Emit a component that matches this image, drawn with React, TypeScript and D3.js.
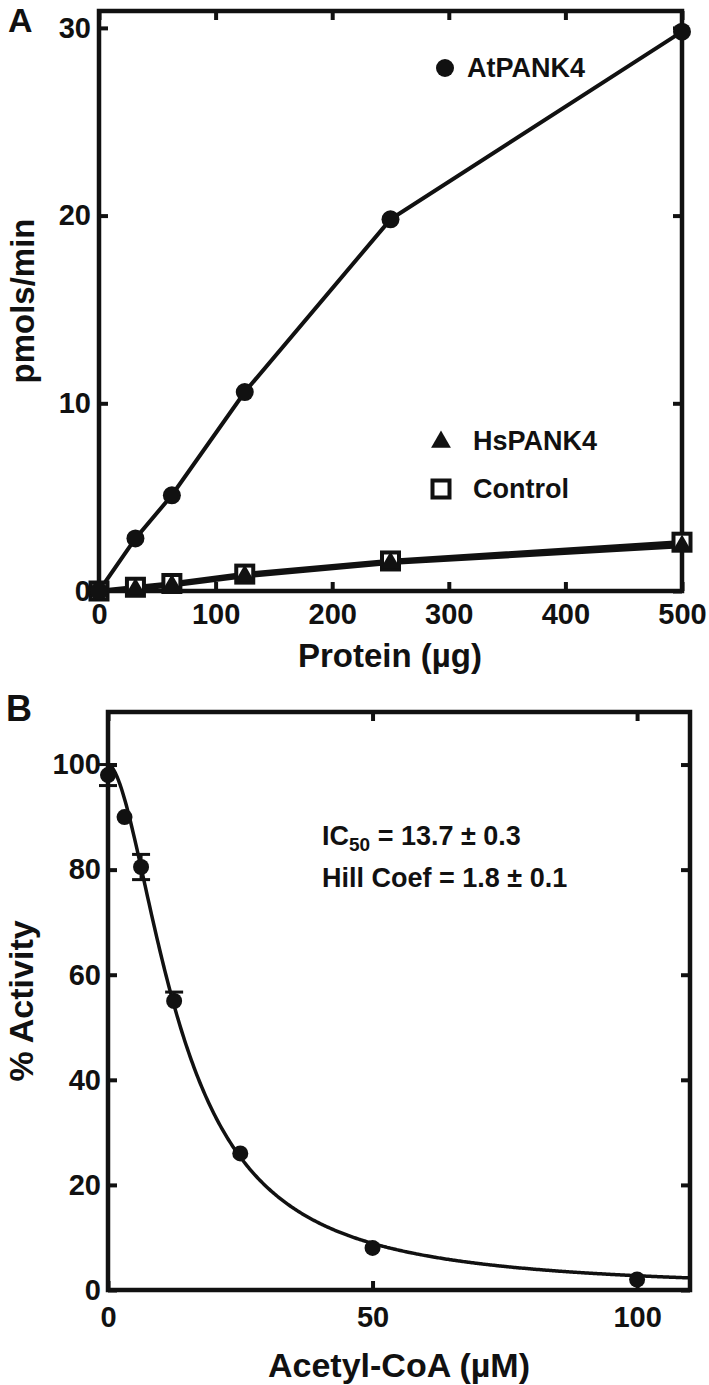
import React, { useEffect, useRef } from "react";
import * as d3 from "d3";

const W = 709;
const H = 1385;
const FONT = "'Liberation Sans', Arial, Helvetica, sans-serif";
const INK = "#111";

// panel A : activity vs protein
const proteinUg = [0, 31.25, 62.5, 125, 250, 500];
const atPank4 = [0, 2.8, 5.1, 10.6, 19.8, 29.8];
const hsPank4 = [0, 0.1, 0.3, 0.8, 1.5, 2.4];
const controlRate = [0, 0.2, 0.4, 0.9, 1.6, 2.6];
const proteinTicks = [0, 100, 200, 300, 400, 500];
const rateTicks = [0, 10, 20, 30];

// panel B : inhibition by acetyl-CoA
const acetylCoA = [0, 3.125, 6.25, 12.5, 25, 50, 100];
const activity = [98, 90, 80.5, 55, 26, 8, 2];
const errUp = [2, 0, 2.4, 1.7, 0, 0, 0];
const errDown = [2, 0, 2.4, 0, 0, 0, 0];
const coaTicks = [0, 50, 100];
const activityTicks = [0, 20, 40, 60, 80, 100];
const IC50 = 13.7;
const HILL = 1.8;

type Sel = d3.Selection<SVGGElement, unknown, null, undefined>;

function drawFrame(
  g: Sel,
  x: d3.ScaleLinear<number, number>,
  y: d3.ScaleLinear<number, number>,
  xTicks: number[],
  yTicks: number[],
  padX: number,
  padY: number
) {
  const [x0, x1] = x.range();
  const [y0, y1] = y.range();
  const tick = 9;

  const bottom = g.append("g").attr("transform", `translate(0,${y0})`)
    .call(d3.axisBottom(x).tickValues(xTicks).tickSizeInner(-tick).tickSizeOuter(0).tickPadding(padX).tickFormat(d3.format("d")));
  const top = g.append("g").attr("transform", `translate(0,${y1})`)
    .call(d3.axisTop(x).tickValues(xTicks).tickSizeInner(-tick).tickSizeOuter(0).tickFormat(() => ""));
  const left = g.append("g").attr("transform", `translate(${x0},0)`)
    .call(d3.axisLeft(y).tickValues(yTicks).tickSizeInner(-tick).tickSizeOuter(0).tickPadding(padY).tickFormat(d3.format("d")));
  const right = g.append("g").attr("transform", `translate(${x1},0)`)
    .call(d3.axisRight(y).tickValues(yTicks).tickSizeInner(-tick).tickSizeOuter(0).tickFormat(() => ""));

  [bottom, top, left, right].forEach((a) => {
    a.select(".domain").remove();
    a.selectAll(".tick line").attr("stroke", INK).attr("stroke-width", 4);
    a.selectAll(".tick text")
      .attr("fill", INK)
      .attr("font-family", FONT)
      .attr("font-weight", "bold")
      .attr("font-size", 29);
  });

  g.append("rect")
    .attr("x", x0).attr("y", y1)
    .attr("width", x1 - x0).attr("height", y0 - y1)
    .attr("fill", "none").attr("stroke", INK).attr("stroke-width", 4.5);
}

export default function App() {
  const ref = useRef<SVGSVGElement>(null);

  useEffect(() => {
    const svg = d3.select(ref.current as SVGSVGElement);
    svg.selectAll("*").remove();

    const label = (t: string, x: number, y: number, size: number, anchor = "start") =>
      svg.append("text")
        .attr("x", x).attr("y", y)
        .attr("text-anchor", anchor)
        .attr("font-family", FONT).attr("font-weight", "bold")
        .attr("font-size", size).attr("fill", INK)
        .text(t);

    // ---------- panel A ----------
    const xA = d3.scaleLinear().domain([0, 500]).range([99, 682]);
    const yA = d3.scaleLinear().domain([0, 30.9]).range([591, 11]);
    const gA = svg.append("g");

    const lineA = d3.line<number>().x((d, i) => xA(proteinUg[i])).y((d) => yA(d));
    [controlRate, hsPank4].forEach((vals) => {
      gA.append("path").datum(vals).attr("d", lineA)
        .attr("fill", "none").attr("stroke", INK).attr("stroke-width", 4.5);
    });
    gA.append("path").datum(atPank4).attr("d", lineA)
      .attr("fill", "none").attr("stroke", INK).attr("stroke-width", 4);

    drawFrame(gA, xA, yA, proteinTicks, rateTicks, 12, 8);

    const sq = 17;
    gA.selectAll("rect.ctrl").data(controlRate).enter().append("rect")
      .attr("x", (d, i) => xA(proteinUg[i]) - sq / 2)
      .attr("y", (d) => yA(d) - sq / 2)
      .attr("width", sq).attr("height", sq)
      .attr("fill", "#fff").attr("stroke", INK).attr("stroke-width", 4);

    const tri = d3.symbol().type(d3.symbolTriangle).size(170);
    gA.selectAll("path.hs").data(hsPank4).enter().append("path")
      .attr("d", tri)
      .attr("transform", (d, i) => `translate(${xA(proteinUg[i])},${yA(d)})`)
      .attr("fill", INK);

    gA.selectAll("circle.at").data(atPank4).enter().append("circle")
      .attr("cx", (d, i) => xA(proteinUg[i]))
      .attr("cy", (d) => yA(d))
      .attr("r", 9).attr("fill", INK);

    // legend A
    gA.append("circle").attr("cx", 445).attr("cy", 68).attr("r", 9).attr("fill", INK);
    label("AtPANK4", 467, 77, 27);
    gA.append("path").attr("d", tri).attr("transform", "translate(441,442)").attr("fill", INK);
    label("HsPANK4", 473, 450, 27);
    gA.append("rect").attr("x", 441 - sq / 2).attr("y", 489 - sq / 2)
      .attr("width", sq).attr("height", sq)
      .attr("fill", "#fff").attr("stroke", INK).attr("stroke-width", 4);
    label("Control", 473, 498, 27);

    label("A", 8, 32, 34);
    label("Protein (\u00b5g)", 390, 667, 33, "middle");
    label("pmols/min", 0, 0, 33, "middle").attr("transform", "translate(34,301) rotate(-90)");

    // ---------- panel B ----------
    const xB = d3.scaleLinear().domain([0, 110]).range([108, 690]);
    const yB = d3.scaleLinear().domain([0, 110]).range([1290, 712]);
    const gB = svg.append("g");

    const fit = d3.range(0, 110.001, 0.25).map((c) => [c, 100 / (1 + Math.pow(c / IC50, HILL))]);
    gB.append("path").datum(fit)
      .attr("d", d3.line<number[]>().x((d) => xB(d[0])).y((d) => yB(d[1])).curve(d3.curveBasis))
      .attr("fill", "none").attr("stroke", INK).attr("stroke-width", 3.5);

    drawFrame(gB, xB, yB, coaTicks, activityTicks, 16, 7);

    const cap = 9;
    acetylCoA.forEach((c, i) => {
      const cx = xB(c);
      const hi = yB(activity[i] + errUp[i]);
      const lo = yB(activity[i] - errDown[i]);
      if (errUp[i] === 0 && errDown[i] === 0) return;
      gB.append("line").attr("x1", cx).attr("x2", cx).attr("y1", hi).attr("y2", lo)
        .attr("stroke", INK).attr("stroke-width", 3);
      const caps: number[] = [];
      if (errUp[i] > 0) caps.push(hi);
      if (errDown[i] > 0) caps.push(lo);
      caps.forEach((yy) =>
        gB.append("line").attr("x1", cx - cap).attr("x2", cx + cap).attr("y1", yy).attr("y2", yy)
          .attr("stroke", INK).attr("stroke-width", 3));
    });
    gB.selectAll("circle.pt").data(activity).enter().append("circle")
      .attr("cx", (d, i) => xB(acetylCoA[i]))
      .attr("cy", (d) => yB(d))
      .attr("r", 8).attr("fill", INK);

    const ic = label("IC", 322, 845, 27);
    ic.append("tspan").attr("font-size", 19).attr("dy", 6).text("50");
    ic.append("tspan").attr("dy", -6).text(` = ${IC50} \u00b1 0.3`);
    label(`Hill Coef = ${HILL} \u00b1 0.1`, 322, 887, 27);

    label("B", 6, 721, 36);
    label("Acetyl-CoA (\u00b5M)", 399, 1377, 34, "middle");
    label("% Activity", 0, 0, 34, "middle").attr("transform", "translate(33,1001) rotate(-90)");
  }, []);

  return (
    <div style={{ position: "absolute", left: 0, top: 0 }}>
      <svg ref={ref} width={W} height={H} style={{ display: "block", background: "#fff" }} />
    </div>
  );
}
